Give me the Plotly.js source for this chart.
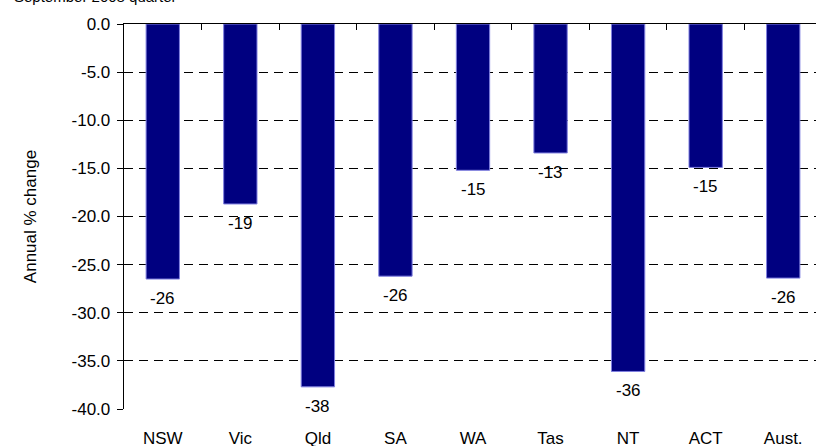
<!DOCTYPE html>
<html>
<head>
<meta charset="utf-8">
<script src="https://cdn.plot.ly/plotly-3.0.1.min.js"></script>
<style>
html,body{margin:0;padding:0;overflow:hidden;background:#fff;width:816px;height:446px;}
#chart{width:822px;height:446px;}
</style>
</head>
<body>
<div id="chart"></div>
<script>
const categories = ['NSW','Vic','Qld','SA','WA','Tas','NT','ACT','Aust.'];
const values = [-26.5, -18.7, -37.7, -26.2, -15.2, -13.4, -36.1, -14.9, -26.4];
const labels = ['-26','-19','-38','-26','-15','-13','-36','-15','-26'];
const yTicks = [0,-5,-10,-15,-20,-25,-30,-35,-40];
const yTickLabels = ['0.0','-5.0','-10.0','-15.0','-20.0','-25.0','-30.0','-35.0','-40.0'];
const subtitle = 'September 2008 quarter';
const yTitle = 'Annual % change';

const FONT = "'Liberation Sans Narrow', 'Arial Narrow', 'Liberation Sans', Arial, sans-serif";

const traces = [
  {
    type: 'bar',
    x: categories,
    y: values,
    width: 0.43,
    marker: {color: '#000080', line: {color: '#8080e0', width: 1}},
    hoverinfo: 'skip',
    xaxis: 'x', yaxis: 'y'
  },
  {
    type: 'scatter', mode: 'markers',
    x: [0], y: [0], xaxis: 'x2', yaxis: 'y',
    marker: {opacity: 0}, hoverinfo: 'skip', showlegend: false
  }
];

const annotations = categories.map((c, i) => ({
  x: c, y: values[i], xref: 'x', yref: 'y',
  text: labels[i], showarrow: false,
  yanchor: 'top', yshift: -8,
  font: {family: FONT, size: 17, color: '#000'}
}));
annotations.push({
  xref: 'paper', yref: 'paper', x: -112/697.5, y: 1,
  xanchor: 'left', yanchor: 'bottom', yshift: 17,
  text: subtitle, showarrow: false,
  font: {family: FONT, size: 15, color: '#000'}
});

const layout = {
  width: 822, height: 446,
  margin: {l: 124, r: 0, t: 24, b: 37},
  paper_bgcolor: '#fff', plot_bgcolor: '#fff',
  showlegend: false,
  font: {family: FONT, size: 16, color: '#000'},
  xaxis: {
    type: 'category',
    range: [-0.5, 8.5],
    showline: false, showgrid: false, zeroline: false,
    ticks: 'outside', ticklen: 14, tickcolor: 'rgba(0,0,0,0)',
    tickfont: {family: FONT, size: 17, color: '#000'},
    fixedrange: true
  },
  xaxis2: {
    overlaying: 'x', side: 'top', anchor: 'y',
    range: [-0.5, 8.5],
    tickvals: [0.5,1.5,2.5,3.5,4.5,5.5,6.5,7.5],
    ticks: 'inside', ticklen: 6, tickwidth: 1, tickcolor: '#000',
    showticklabels: false, showgrid: false, zeroline: false,
    showline: true, linecolor: '#000', linewidth: 1.3
  },
  yaxis: {
    range: [-40, 0],
    tickvals: yTicks,
    ticktext: yTickLabels,
    ticks: 'outside', ticklen: 6, tickwidth: 1, tickcolor: '#000',
    ticklabelstandoff: 3,
    showline: true, linecolor: '#000', linewidth: 1.3,
    showgrid: true, gridcolor: '#000', gridwidth: 1, griddash: '9px,6px',
    zeroline: false,
    tickfont: {family: FONT, size: 17, color: '#000'},
    title: {text: yTitle, font: {family: FONT, size: 17, color: '#000'}, standoff: 30}
  },
  annotations: annotations
};

Plotly.newPlot('chart', traces, layout, {staticPlot: true, displayModeBar: false});
</script>
</body>
</html>
